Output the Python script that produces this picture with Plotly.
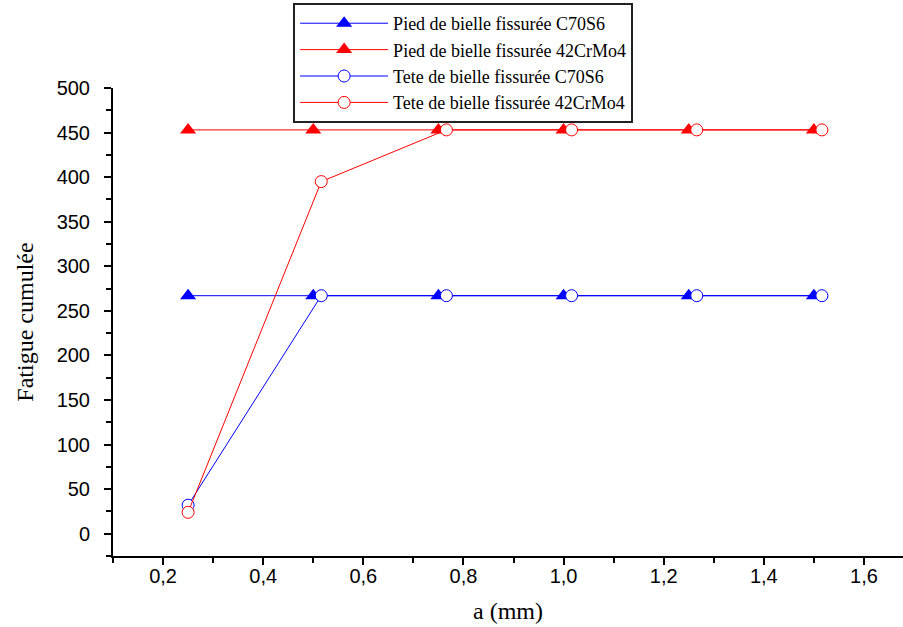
import plotly.graph_objects as go

# Data
a_pied = [0.25, 0.5, 0.75, 1.0, 1.25, 1.5]
a_tete = [0.25, 0.516, 0.766, 1.016, 1.266, 1.516]
pied_c70s6 = [267, 267, 267, 267, 267, 267]
pied_42crmo4 = [453, 453, 453, 453, 453, 453]
tete_c70s6 = [32, 267, 267, 267, 267, 267]
tete_42crmo4 = [24, 395, 453, 453, 453, 453]

names = [
    "Pied de bielle fissurée C70S6",
    "Pied de bielle fissurée 42CrMo4",
    "Tete de bielle fissurée C70S6",
    "Tete de bielle fissurée 42CrMo4",
]

BLUE = "#0000ff"
RED = "#ff0000"

fig = go.Figure()
fig.add_trace(go.Scatter(
    x=a_pied, y=pied_c70s6, name=names[0], mode="lines+markers",
    line=dict(color=BLUE, width=1),
    marker=dict(symbol="triangle-up", size=14, color=BLUE, line=dict(width=0)),
))
fig.add_trace(go.Scatter(
    x=a_pied, y=pied_42crmo4, name=names[1], mode="lines+markers",
    line=dict(color=RED, width=1),
    marker=dict(symbol="triangle-up", size=14, color=RED, line=dict(width=0)),
))
fig.add_trace(go.Scatter(
    x=a_tete, y=tete_c70s6, name=names[2], mode="lines+markers",
    line=dict(color=BLUE, width=1),
    marker=dict(symbol="circle", size=12, color="white", line=dict(color=BLUE, width=1)),
))
fig.add_trace(go.Scatter(
    x=a_tete, y=tete_42crmo4, name=names[3], mode="lines+markers",
    line=dict(color=RED, width=1),
    marker=dict(symbol="circle", size=12, color="white", line=dict(color=RED, width=1)),
))

tick_font = dict(family="Liberation Sans, Arial", size=20, color="black")
title_font = dict(family="Liberation Serif, Times New Roman", size=24, color="black")

fig.update_layout(
    width=903, height=627, autosize=False,
    margin=dict(l=113, r=0, t=88, b=71),
    paper_bgcolor="white", plot_bgcolor="white",
    separators=",.",
    showlegend=True,
    legend=dict(
        x=0.228, y=1.1816, xanchor="left", yanchor="top",
        bordercolor="#222", borderwidth=2, bgcolor="white",
        font=dict(family="Liberation Serif, Times New Roman", size=18, color="black"),
        itemwidth=88, tracegroupgap=0,
        entrywidth=345, entrywidthmode="pixels",
    ),
    xaxis=dict(
        range=[0.1, 1.678], tickmode="linear", tick0=0.2, dtick=0.2, tickformat=".1f",
        ticks="outside", ticklen=7, tickwidth=2, tickcolor="black",
        minor=dict(tick0=0.1, dtick=0.1, ticks="outside", ticklen=5, tickwidth=2, tickcolor="black"),
        showline=True, linewidth=2, linecolor="black", mirror=False,
        showgrid=False, zeroline=False, tickfont=tick_font, ticklabelstandoff=-6,
        title=dict(text="a (mm)", font=title_font, standoff=16),
    ),
    yaxis=dict(
        range=[-25, 500], tickmode="linear", tick0=0, dtick=50,
        ticks="outside", ticklen=7, tickwidth=2, tickcolor="black",
        minor=dict(tick0=25, dtick=25, ticks="outside", ticklen=5, tickwidth=2, tickcolor="black"),
        showline=True, linewidth=2, linecolor="black", mirror=False,
        showgrid=False, zeroline=False, tickfont=tick_font, ticklabelstandoff=10,
        title=dict(text="Fatigue cumulée", font=title_font, standoff=16),
    ),
)

# remove the page's default body margin so the figure sits at the window's top-left
fig.write_html(
    "out.html",
    config={"displayModeBar": False},
    post_script="document.body.style.margin='0';",
)
